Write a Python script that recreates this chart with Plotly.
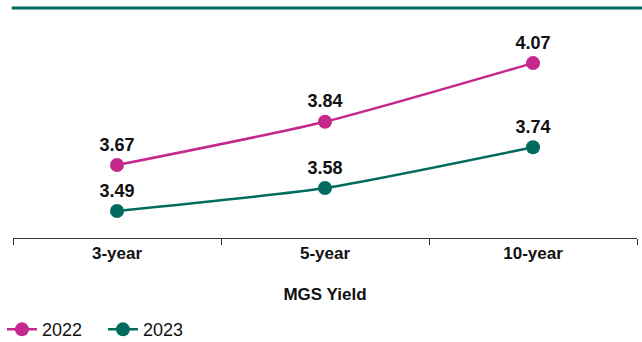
import plotly.graph_objects as go

categories = ["3-year", "5-year", "10-year"]
yield_2022 = [3.67, 3.84, 4.07]
yield_2023 = [3.49, 3.58, 3.74]

PINK = "#c4288d"
TEAL = "#006b5e"
FONT = "Liberation Sans, Arial, Helvetica, sans-serif"

fig = go.Figure()
for name, vals, col in [("2022", yield_2022, PINK), ("2023", yield_2023, TEAL)]:
    fig.add_trace(go.Scatter(
        x=categories, y=vals, name=name, mode="lines+markers+text",
        line=dict(color=col, width=2.5, shape="spline", smoothing=0.6),
        marker=dict(color=col, size=14),
        text=[f"{v:.2f}" for v in vals], textposition="top center",
        textfont=dict(family=FONT, size=18, color="#111111", weight="bold"),
        cliponaxis=False,
    ))

fig.update_layout(
    width=642, height=342,
    margin=dict(l=13, r=5, t=8, b=104, autoexpand=False),
    paper_bgcolor="white", plot_bgcolor="white",
    font=dict(family=FONT, color="#111111"),
    showlegend=True,
    legend=dict(orientation="h", xref="container", yref="paper",
                x=0.003, xanchor="left", y=-0.318, yanchor="top",
                font=dict(size=18, family=FONT, color="#111111"),
                entrywidth=56, entrywidthmode="pixels", traceorder="normal"),
    xaxis=dict(
        type="category", range=[-0.5, 2.5], showgrid=False, zeroline=False,
        showline=True, linecolor="#333333", linewidth=1, automargin=False,
        ticks="outside", tickson="boundaries", ticklen=6, tickcolor="#333333",
        tickfont=dict(size=17, family=FONT, color="#111111", weight="bold"),
        title=dict(text="MGS Yield", font=dict(size=17, family=FONT, color="#111111", weight="bold"), standoff=25),
    ),
    yaxis=dict(range=[3.384, 4.286], visible=False, showgrid=False, zeroline=False),
)
fig.add_shape(type="line", xref="paper", yref="paper", x0=-0.002, x1=1.008, y0=1, y1=1,
              line=dict(color=TEAL, width=3))

fig.write_html("out.html")
